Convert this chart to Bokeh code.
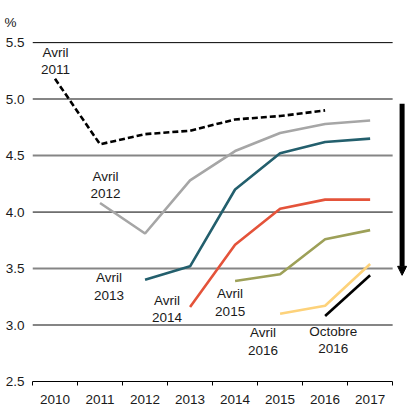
from bokeh.plotting import figure
from bokeh.embed import file_html
from bokeh.resources import INLINE
from bokeh.core.properties import value
from bokeh.models import (Range1d, LinearAxis, FixedTicker, PrintfTickFormatter,
                          Title, Arrow, NormalHead)

# ---- data ----
years = ["2010", "2011", "2012", "2013", "2014", "2015", "2016", "2017"]
y_ticks = [2.5, 3.0, 3.5, 4.0, 4.5, 5.0, 5.5]

avril_2011 = [5.18, 4.60, 4.69, 4.72, 4.82, 4.85, 4.90]   # 2010-2016
avril_2012 = [4.08, 3.81, 4.28, 4.54, 4.70, 4.78, 4.81]   # 2011-2017
avril_2013 = [3.40, 3.52, 4.20, 4.52, 4.62, 4.65]         # 2012-2017
avril_2014 = [3.16, 3.71, 4.03, 4.11, 4.11]               # 2013-2017
avril_2015 = [3.39, 3.45, 3.76, 3.84]                     # 2014-2017
avril_2016 = [3.10, 3.17, 3.54]                           # 2015-2017
octobre_2016 = [3.08, 3.44]                               # 2016-2017

series = [
    ("Avril\n2011", "2010", avril_2011, "#000000", "6 3"),
    ("Avril\n2012", "2011", avril_2012, "#a6a6a6", "solid"),
    ("Avril\n2013", "2012", avril_2013, "#235f6d", "solid"),
    ("Avril\n2014", "2013", avril_2014, "#e4533a", "solid"),
    ("Avril\n2015", "2014", avril_2015, "#9da058", "solid"),
    ("Avril\n2016", "2015", avril_2016, "#fdd27a", "solid"),
    ("Octobre\n2016", "2016", octobre_2016, "#000000", "solid"),
]

# label placement (layout, not data)
label_pos = [(0.51, 5.34), (1.62, 4.24), (1.70, 3.34), (2.99, 3.14),
             (4.39, 3.20), (5.12, 2.855), (6.68, 2.866)]

FONT = "Liberation Sans"
FS = "13.5px"
TXT = "#1a1a1a"

p = figure(width=407, height=406, x_range=Range1d(0, 8.33), y_range=Range1d(2.5, 5.51),
           x_axis_type=None, y_axis_type=None, output_backend="svg",
           toolbar_location=None, min_border_left=32, min_border_right=0,
           min_border_top=37, min_border_bottom=24)
p.outline_line_color = None
p.background_fill_color = "white"

p.title = Title(text="%", align="left", offset=-28, standoff=24,
                text_font_size=FS, text_font_style="normal", text_font=FONT,
                text_color=TXT)

# grid lines (limited to the category span)
n = len(years)
for yv in y_ticks[1:]:
    crisp = yv in (4.0, 5.5)
    p.segment(x0=[0], y0=[yv], x1=[n], y1=[yv],
              line_color="black" if crisp else "#858585",
              line_width=1 if crisp else 2)

# series
for name, start, vals, color, dash in series:
    i0 = years.index(start)
    xs = [i0 + k + 0.5 for k in range(len(vals))]
    p.line(xs, vals, line_color=color, line_width=2.6, line_dash=dash)

# labels
p.text(x=[q[0] for q in label_pos], y=[q[1] for q in label_pos],
       text=[s[0] for s in series], text_align="center", text_baseline="middle",
       text_font=value(FONT), text_font_size=FS, text_color=TXT,
       text_line_height=1.15)

# arrow
p.add_layout(Arrow(end=NormalHead(size=9, fill_color="black", line_color="black"),
                   x_start=8.21, y_start=4.96, x_end=8.21, y_end=3.44,
                   line_width=5, line_color="black"))

# axes
yaxis = LinearAxis(ticker=FixedTicker(ticks=y_ticks),
                   formatter=PrintfTickFormatter(format="%.1f"),
                   axis_line_color=None, major_tick_line_color=None,
                   minor_tick_line_color=None, major_tick_out=0, major_tick_in=0,
                   major_label_standoff=8, major_label_text_font_size=FS,
                   major_label_text_font=FONT, major_label_text_color=TXT)
p.add_layout(yaxis, "left")

centers = [i + 0.5 for i in range(n)]
xaxis = LinearAxis(ticker=FixedTicker(ticks=centers, minor_ticks=list(range(n + 1))),
                   bounds=(0, n),
                   major_label_overrides={c: y for c, y in zip(centers, years)},
                   axis_line_color="black", axis_line_width=1,
                   major_tick_line_color=None, major_tick_out=0, major_tick_in=0,
                   minor_tick_line_color="black", minor_tick_out=4, minor_tick_in=0,
                   major_label_standoff=9, major_label_text_font_size=FS,
                   major_label_text_font=FONT, major_label_text_color=TXT)
p.add_layout(xaxis, "below")

open("out.html", "w").write(file_html(p, INLINE))
